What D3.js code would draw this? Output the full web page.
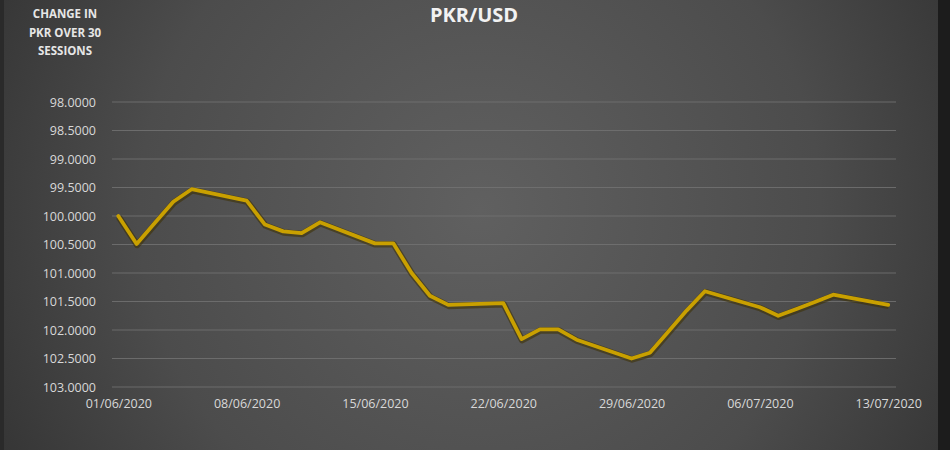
<!DOCTYPE html>
<html>
<head>
<meta charset="utf-8">
<script src="https://cdn.jsdelivr.net/npm/d3@7"></script>
<style>
  html, body { margin: 0; padding: 0; background: #2e2e2e; }
  svg { display: block; }
  text { font-family: "Open Sans", "Liberation Sans", sans-serif; }
</style>
</head>
<body>
<svg id="chart" width="950" height="450"></svg>
<script>
// ---- data ----
const dates = [
  "01/06/2020","02/06/2020","03/06/2020","04/06/2020","05/06/2020",
  "08/06/2020","09/06/2020","10/06/2020","11/06/2020","12/06/2020",
  "15/06/2020","16/06/2020","17/06/2020","18/06/2020","19/06/2020",
  "22/06/2020","23/06/2020","24/06/2020","25/06/2020","26/06/2020",
  "29/06/2020","30/06/2020","01/07/2020","02/07/2020","03/07/2020",
  "06/07/2020","07/07/2020","08/07/2020","09/07/2020","10/07/2020",
  "13/07/2020"
];
const pkrValues = [
  100.00, 100.49, 100.12, 99.75, 99.53,
  99.73, 100.15, 100.27, 100.30, 100.11,
  100.48, 100.48, 101.00, 101.40, 101.56,
  101.53, 102.16, 101.99, 101.99, 102.17,
  102.50, 102.40, 102.03, 101.66, 101.32,
  101.60, 101.75, 101.63, 101.51, 101.38,
  101.56
];
const xTickLabels = ["01/06/2020","08/06/2020","15/06/2020","22/06/2020","29/06/2020","06/07/2020","13/07/2020"];
const yTickValues = [98, 98.5, 99, 99.5, 100, 100.5, 101, 101.5, 102, 102.5, 103];
const chartTitle = "PKR/USD";
const yTitleLines = ["CHANGE IN", "PKR OVER 30", "SESSIONS"];

// ---- drawing ----
const W = 950, H = 450;
const parse = d3.timeParse("%d/%m/%Y");
const svg = d3.select("#chart");

const defs = svg.append("defs");
const grad = defs.append("radialGradient").attr("id", "bg")
  .attr("gradientUnits", "userSpaceOnUse")
  .attr("cx", 480).attr("cy", 210).attr("r", 620);
grad.append("stop").attr("offset", "0%").attr("stop-color", "#606060");
grad.append("stop").attr("offset", "55%").attr("stop-color", "#4c4c4c");
grad.append("stop").attr("offset", "100%").attr("stop-color", "#2c2c2c");

svg.append("rect").attr("width", W).attr("height", H).attr("fill", "url(#bg)");
svg.append("rect").attr("x", 938).attr("y", 0).attr("width", 12).attr("height", H).attr("fill", "#1c1c1c");
svg.append("rect").attr("x", 0).attr("y", 0).attr("width", 4).attr("height", H).attr("fill", "#2a2a2a");

const plotLeft = 112, plotRight = 896;
const x = d3.scaleTime().domain([parse("01/06/2020"), parse("13/07/2020")]).range([118.3, 888.2]);
const y = d3.scaleLinear().domain([98, 103]).range([102, 387]);

// gridlines
svg.append("g").selectAll("line").data(yTickValues).join("line")
  .attr("x1", plotLeft).attr("x2", plotRight)
  .attr("y1", d => y(d)).attr("y2", d => y(d))
  .attr("stroke", "#727272").attr("stroke-width", 1).attr("opacity", 0.85);

// y axis labels
const yAxis = d3.axisLeft(y).tickValues(yTickValues).tickFormat(d3.format(".4f")).tickSize(0).tickPadding(0);
const gy = svg.append("g").attr("transform", "translate(96,0)").call(yAxis);
gy.select(".domain").remove();
gy.selectAll("text").attr("fill", "#d8d8d8").attr("font-size", 12.5)
  .attr("font-family", "\"Open Sans\", sans-serif").attr("dy", "0.35em");

// x axis labels
const xAxis = d3.axisBottom(x).tickValues(xTickLabels.map(parse))
  .tickFormat(d3.timeFormat("%d/%m/%Y")).tickSize(0).tickPadding(0);
const gx = svg.append("g").attr("transform", "translate(0,399)").call(xAxis);
gx.select(".domain").remove();
gx.selectAll("text").attr("fill", "#d8d8d8").attr("font-size", 12.5)
  .attr("font-family", "\"Open Sans\", sans-serif").attr("dy", "0.71em");

// line
const pts = dates.map((d, i) => ({ date: parse(d), v: pkrValues[i] }));
const line = d3.line().x(d => x(d.date)).y(d => y(d.v));
svg.append("path").datum(pts).attr("d", line)
  .attr("fill", "none").attr("stroke", "#3d3000").attr("stroke-width", 6.5)
  .attr("stroke-opacity", 0.55).attr("stroke-linejoin", "round")
  .attr("transform", "translate(0.5,1)");
svg.append("path").datum(pts).attr("d", line)
  .attr("fill", "none").attr("stroke", "#c9a000").attr("stroke-width", 3.8)
  .attr("stroke-linejoin", "round").attr("stroke-linecap", "round");

// title
svg.append("text").attr("x", 474).attr("y", 22).attr("text-anchor", "middle")
  .attr("fill", "#f2f2f2").attr("font-size", 20).attr("font-weight", "bold")
  .text(chartTitle);

// y title
svg.append("g").selectAll("text").data(yTitleLines).join("text")
  .attr("x", 65).attr("y", (d, i) => 18 + i * 18.5).attr("text-anchor", "middle")
  .attr("fill", "#e6e6e6").attr("font-size", 11.5).attr("font-weight", "bold")
  .text(d => d);
</script>
</body>
</html>
